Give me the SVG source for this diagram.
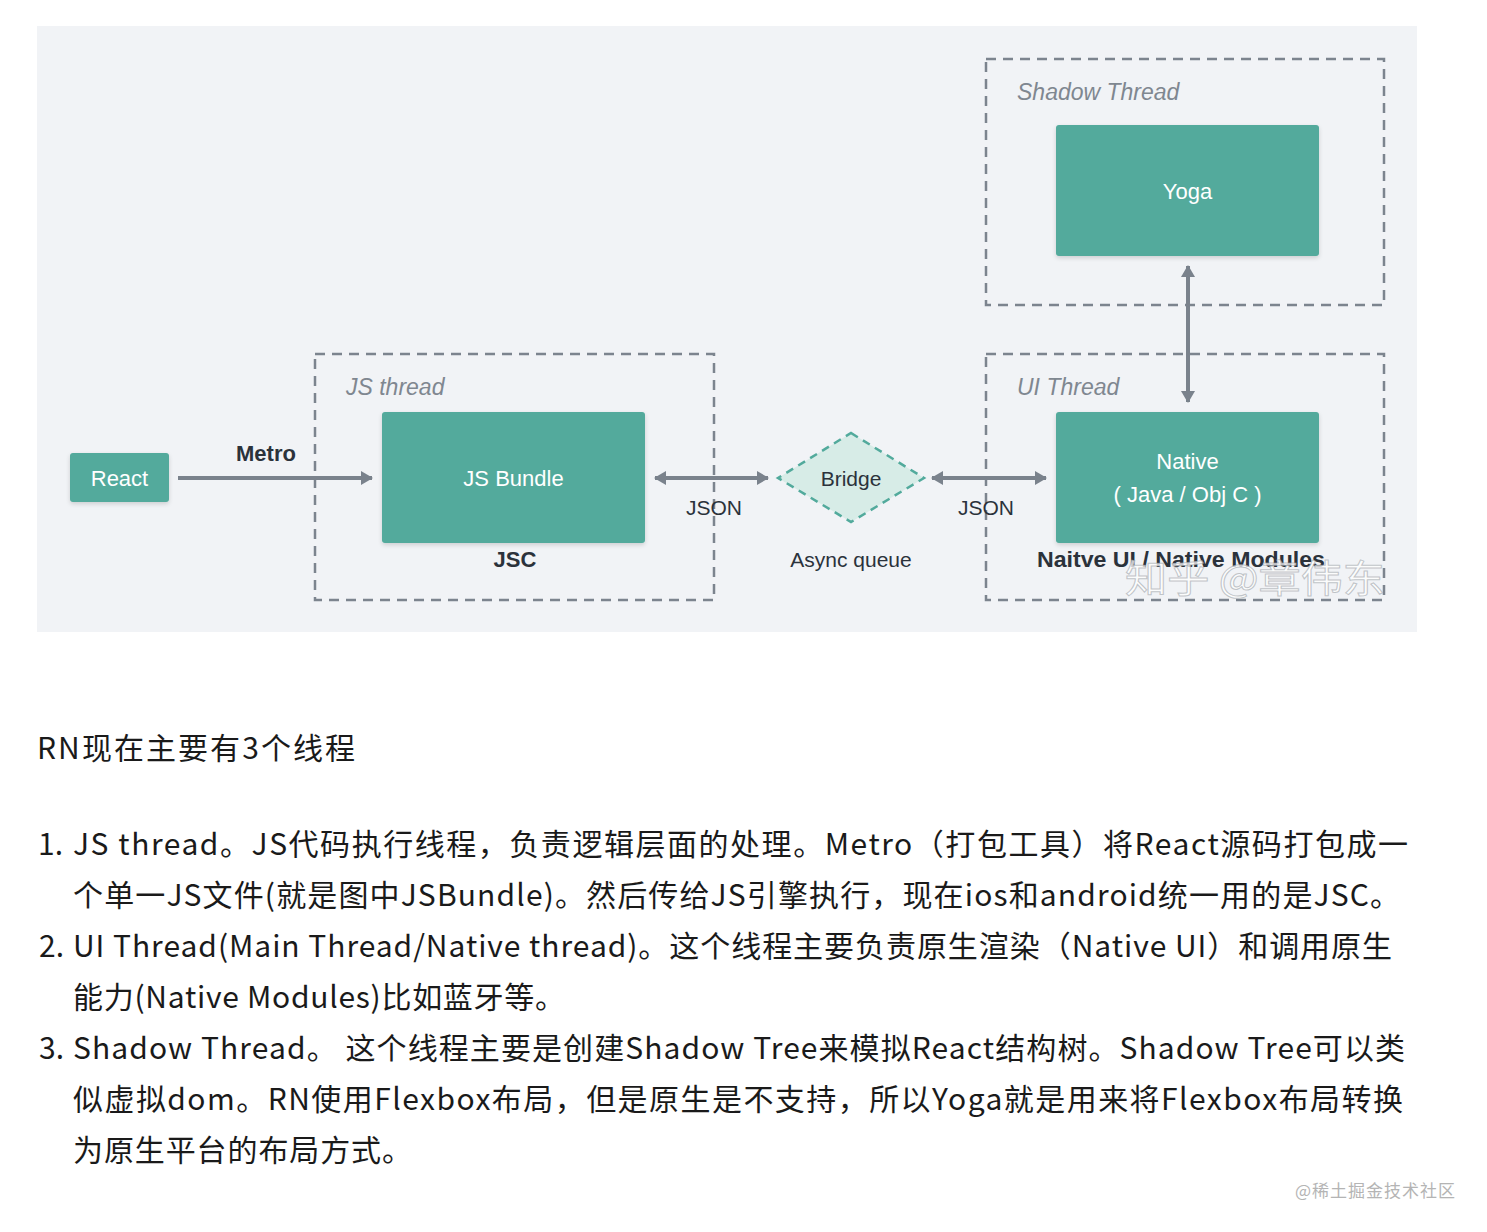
<svg xmlns="http://www.w3.org/2000/svg" width="1487" height="1232" viewBox="0 0 1487 1232">
<defs>
<style>
.box{fill:#52aa9c;}
.bt{font-family:"Liberation Sans",Arial,sans-serif;font-size:22px;fill:#ffffff;text-anchor:middle;}
.lbl{font-family:"Liberation Sans",Arial,sans-serif;font-size:21px;fill:#2b323b;text-anchor:middle;}
.b{font-weight:bold;font-size:22px;}
.grp{fill:none;stroke:#7c848e;stroke-width:2.5;stroke-dasharray:10 7;}
.gl{font-family:"Liberation Sans",Arial,sans-serif;font-size:23px;font-style:italic;fill:#7f8790;}
.ar{stroke:#7a828c;stroke-width:4;fill:none;}
.body{font-family:"Noto Sans CJK SC","Liberation Sans",sans-serif;font-size:30px;fill:#1a1a1a;}
</style>
<marker id="ah" viewBox="0 0 12 14" refX="11" refY="7" markerWidth="12" markerHeight="14" markerUnits="userSpaceOnUse" orient="auto-start-reverse">
<path d="M0,0 L12,7 L0,14 Z" fill="#7a828c"/>
</marker>
<filter id="sh" x="-10%" y="-10%" width="120%" height="130%">
<feDropShadow dx="0" dy="2" stdDeviation="2" flood-color="#000" flood-opacity="0.15"/>
</filter>
</defs>
<rect width="1487" height="1232" fill="#ffffff"/>
<rect x="37" y="26" width="1380" height="606" fill="#f1f3f6"/>

<g id="js-thread-group">
<rect class="grp" x="315" y="354" width="399" height="246"/>
<text class="gl" x="346" y="395">JS thread</text>
</g>
<g id="ui-thread-group">
<rect class="grp" x="986" y="354" width="398" height="246"/>
<text class="gl" x="1017" y="395">UI Thread</text>
</g>
<g id="shadow-thread-group">
<rect class="grp" x="986" y="59" width="398" height="246"/>
<text class="gl" x="1017" y="100">Shadow Thread</text>
</g>

<g id="connectors">
<line class="ar" x1="178" y1="478" x2="372" y2="478" marker-end="url(#ah)"/>
<text class="lbl b" x="266" y="461">Metro</text>
<line class="ar" x1="655" y1="478" x2="768" y2="478" marker-start="url(#ah)" marker-end="url(#ah)"/>
<text class="lbl" x="714" y="515">JSON</text>
<line class="ar" x1="932" y1="478" x2="1046" y2="478" marker-start="url(#ah)" marker-end="url(#ah)"/>
<text class="lbl" x="986" y="515">JSON</text>
<line class="ar" x1="1188" y1="266" x2="1188" y2="402" marker-start="url(#ah)" marker-end="url(#ah)"/>
</g>

<g id="react">
<rect class="box" x="70" y="453" width="99" height="49" rx="3" filter="url(#sh)"/>
<text class="bt" x="119.5" y="486">React</text>
</g>
<g id="js-bundle">
<rect class="box" x="382" y="412" width="263" height="131" rx="3" filter="url(#sh)"/>
<text class="bt" x="513.5" y="486">JS Bundle</text>
<text class="lbl b" x="515" y="567">JSC</text>
</g>
<g id="bridge">
<polygon points="851,433 924,478 851,522 778,478" fill="#d7ece7" stroke="#52aa9c" stroke-width="2.5" stroke-dasharray="8 6"/>
<text class="lbl" x="851" y="486">Bridge</text>
<text class="lbl" x="851" y="567">Async queue</text>
</g>
<g id="native">
<rect class="box" x="1056" y="412" width="263" height="131" rx="3" filter="url(#sh)"/>
<text class="bt" x="1187.5" y="469">Native</text>
<text class="bt" x="1187.5" y="502">( Java / Obj C )</text>
<text class="lbl b" x="1181" y="567" textLength="288" lengthAdjust="spacingAndGlyphs">Naitve UI / Native Modules</text>
</g>
<g id="yoga">
<rect class="box" x="1056" y="125" width="263" height="131" rx="3" filter="url(#sh)"/>
<text class="bt" x="1187.5" y="199">Yoga</text>
</g>

<text x="1125" y="592" font-family="Noto Sans CJK SC,sans-serif" font-size="38" fill="#ffffff" fill-opacity="0.75" stroke="#9aa0a6" stroke-opacity="0.6" stroke-width="1" textLength="260" lengthAdjust="spacingAndGlyphs">知乎 @章伟东</text>

<g id="text-body">
<text class="body" x="37" y="759" textLength="318" lengthAdjust="spacing">RN现在主要有3个线程</text>
<text class="body" x="63" y="855" text-anchor="end">1.</text>
<text class="body" x="73" y="855" textLength="1335" lengthAdjust="spacing">JS thread。JS代码执行线程，负责逻辑层面的处理。Metro（打包工具）将React源码打包成一</text>
<text class="body" x="73" y="906" textLength="1327" lengthAdjust="spacing">个单一JS文件(就是图中JSBundle)。然后传给JS引擎执行，现在ios和android统一用的是JSC。</text>
<text class="body" x="64" y="957" text-anchor="end">2.</text>
<text class="body" x="73" y="957" textLength="1319" lengthAdjust="spacing">UI Thread(Main Thread/Native thread)。这个线程主要负责原生渲染（Native UI）和调用原生</text>
<text class="body" x="73" y="1008" textLength="492" lengthAdjust="spacing">能力(Native Modules)比如蓝牙等。</text>
<text class="body" x="64" y="1059" text-anchor="end">3.</text>
<text class="body" x="73" y="1059" textLength="1332" lengthAdjust="spacing">Shadow Thread。 这个线程主要是创建Shadow Tree来模拟React结构树。Shadow Tree可以类</text>
<text class="body" x="73" y="1110" textLength="1330" lengthAdjust="spacing">似虚拟dom。RN使用Flexbox布局，但是原生是不支持，所以Yoga就是用来将Flexbox布局转换</text>
<text class="body" x="73" y="1161" textLength="339" lengthAdjust="spacing">为原生平台的布局方式。</text>
</g>
<text x="1295" y="1197" font-family="Noto Sans CJK SC,sans-serif" font-size="17" fill="#b4b4b4" textLength="160" lengthAdjust="spacing">@稀土掘金技术社区</text>
</svg>
